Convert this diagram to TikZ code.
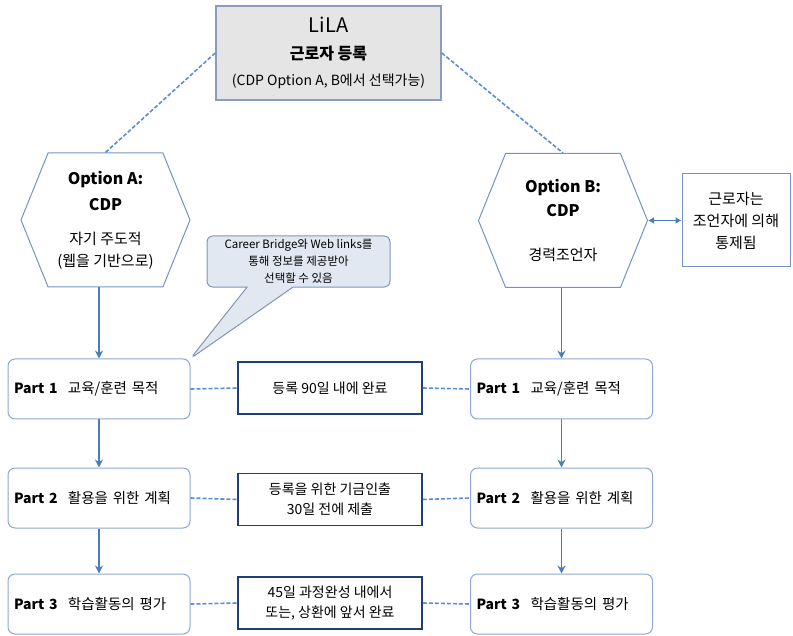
\documentclass[tikz,border=0pt]{standalone}
\usepackage{fontspec}
\setmainfont{Noto Sans CJK KR}
\usetikzlibrary{arrows.meta,shapes.symbols,shapes.callouts}

\definecolor{hexline}{HTML}{7393C4}
\definecolor{partline}{HTML}{8DA8D4}
\definecolor{flowblue}{HTML}{4A7EBB}
\definecolor{dashblue}{HTML}{5B8DD4}
\definecolor{noteline}{HTML}{1F3F77}
\definecolor{headfill}{HTML}{E5E5E5}
\definecolor{headline}{HTML}{8A9DBF}
\definecolor{tipfill}{HTML}{E1E8F2}
\definecolor{tipline}{HTML}{8394B3}

\begin{document}
\begin{tikzpicture}[x=1pt,y=-1pt,
    option/.style={signal,signal to=east and west,signal pointer angle=136,draw=hexline,line width=1pt,
        minimum width=169pt,minimum height=134pt,inner sep=0pt,align=center,
        font=\fontsize{15}{22}\selectfont},
    part/.style={draw=partline,line width=1pt,rounded corners=7pt,minimum width=182pt,minimum height=60pt,
        text width=170pt,align=left,inner sep=6pt,font=\fontsize{14.5}{16}\selectfont},
    note/.style={draw=noteline,line width=1.6pt,minimum width=184pt,minimum height=52pt,align=center,
        font=\fontsize{14}{20}\selectfont},
    flow/.style={draw=flowblue,line width=1.4pt,-{Stealth[length=8pt,width=8pt]}},
    link/.style={draw=dashblue,line width=1.6pt,dash pattern=on 4pt off 2pt}]
    \useasboundingbox (0,0) rectangle (793,636);

    % top: registration
    \node[draw=headline,fill=headfill,line width=1.6pt,minimum width=225pt,minimum height=94pt,align=center,
        font=\fontsize{14}{26}\selectfont] (head) at (328.5,53)
        {{\fontsize{20}{24}\selectfont LiLA}\\[1pt]
         {\fontsize{16}{20}\selectfont\bfseries 근로자 등록}\\
         (CDP Option A, B에서 선택가능)};

    % the two options
    \node[option] (optA) at (105.5,220)
        {{\fontsize{16}{20}\selectfont\bfseries Option A:}\\[4pt]
         {\fontsize{16}{20}\selectfont\bfseries CDP}\\[12pt]
         자기 주도적\\(웹을 기반으로)};
    \node[option] (optB) at (563,220.5)
        {{\fontsize{16}{20}\selectfont\bfseries Option B:}\\[2pt]
         {\fontsize{16}{20}\selectfont\bfseries CDP}\\[22pt]
         경력조언자};
    \node[draw=hexline,line width=1pt,minimum width=108pt,minimum height=93pt,align=center,
        font=\fontsize{15}{22}\selectfont] (advisor) at (736,220.5) {근로자는\\조언자에 의해\\통제됨};

    \draw[link] (head.west) -- (optA.north);
    \draw[link] (head.east) -- (optB.north);
    \draw[draw=flowblue,line width=1.4pt,{Latex[length=6pt,width=7pt]}-{Latex[length=6pt,width=7pt]}] (optB.east) -- (advisor.west);

    % part boxes
    \node[part] (p1a) at (99,389) {\makebox[54pt][l]{\fontsize{14}{16}\selectfont\bfseries Part 1}교육/훈련 목적};
    \node[part] (p2a) at (99,498) {\makebox[54pt][l]{\fontsize{14}{16}\selectfont\bfseries Part 2}활용을 위한 계획};
    \node[part] (p3a) at (99,604) {\makebox[54pt][l]{\fontsize{14}{16}\selectfont\bfseries Part 3}학습활동의 평가};
    \node[part] (p1b) at (561.5,389) {\makebox[54pt][l]{\fontsize{14}{16}\selectfont\bfseries Part 1}교육/훈련 목적};
    \node[part] (p2b) at (561.5,498) {\makebox[54pt][l]{\fontsize{14}{16}\selectfont\bfseries Part 2}활용을 위한 계획};
    \node[part] (p3b) at (561.5,604) {\makebox[54pt][l]{\fontsize{14}{16}\selectfont\bfseries Part 3}학습활동의 평가};

    % deadlines
    \node[note] (due1) at (330,388) {등록 90일 내에 완료};
    \node[note] (due2) at (330,499.5) {등록을 위한 기금인출\\30일 전에 제출};
    \node[note] (due3) at (330,603) {45일 과정완성 내에서\\또는, 상환에 앞서 완료};

    \foreach \row in {1,2,3} {
        \draw[link] (p\row a.east) -- (due\row.west);
        \draw[link] (due\row.east) -- (p\row b.west);
    }

    % flow down each column
    \draw[flow] (optA.south -| p1a.north) -- (p1a.north);
    \draw[flow] (p1a) -- (p2a);
    \draw[flow] (p2a) -- (p3a);
    \draw[flow] (optB.south -| p1b.north) -- (p1b.north);
    \draw[flow] (p1b) -- (p2b);
    \draw[flow] (p2b) -- (p3b);

    % callout
    \node[rectangle callout,draw=tipline,fill=tipfill,line width=1pt,rounded corners=6pt,
        minimum width=183pt,minimum height=51pt,callout pointer width=46pt,
        callout absolute pointer={(p1a.north east)},align=center,
        font=\fontsize{11.5}{17}\selectfont] (tip) at (298.5,261.5)
        {Career Bridge와 Web links를\\통해 정보를 제공받아\\선택할 수 있음};
\end{tikzpicture}
\end{document}
